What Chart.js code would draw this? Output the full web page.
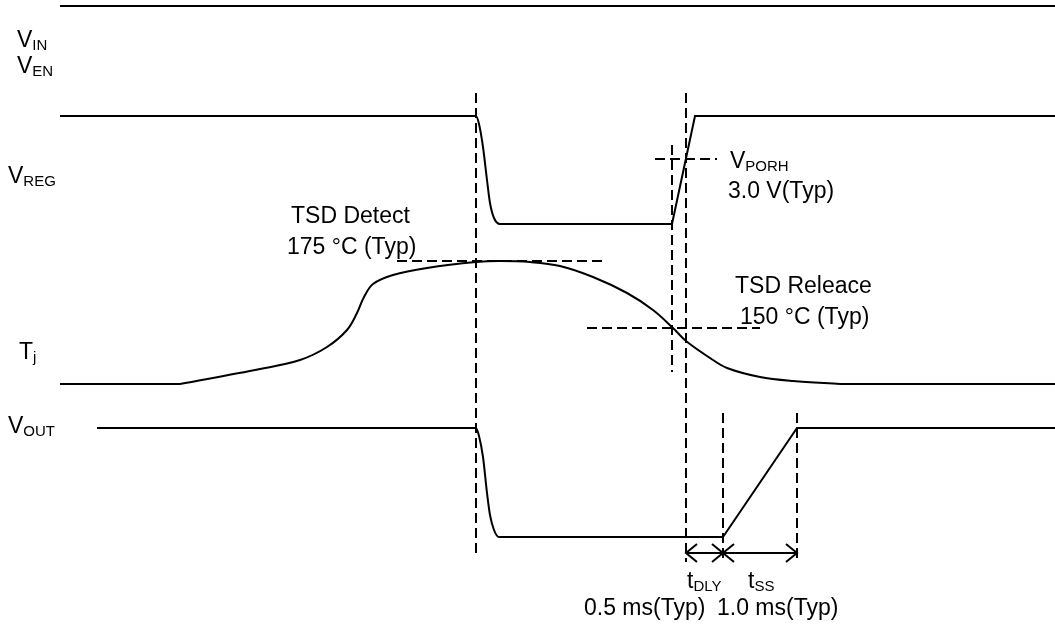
<!DOCTYPE html>
<html>
<head>
  <title>TSD Timing Chart</title>
  <script src="https://cdn.jsdelivr.net/npm/chart.js"></script>
  <style>
    body { margin: 0; background: #fff; }
    canvas { display: block; }
  </style>
</head>
<body>
  <canvas id="timingChart" width="1055" height="624"></canvas>

  <script>
    // waveforms: x = time position, y = signal level (diagram units, top = 0)
    const vinX  = [60, 1055];
    const vinY  = [6, 6];

    // first 9 points are the smooth fall, the rest is the straight ramp back up
    const vregX = [60, 476, 479, 483, 487, 490, 494, 500, 672, 695, 1055];
    const vregY = [116, 116, 124, 147, 180, 203, 218, 224, 224, 116, 116];

    const tjX = [60, 180, 260, 300, 327, 347, 357, 364, 373, 393, 427, 476, 500, 530, 560, 593, 627, 653, 673, 686, 710, 727, 760, 793, 840, 1055];
    const tjY = [384, 384, 369, 360, 347, 330, 313, 297, 284, 275, 268, 262, 261, 262, 266, 277, 293, 310, 328, 341, 358, 368, 377, 381, 384, 384];

    const voutX = [97, 476, 479, 483, 487, 490, 494, 499, 723, 797, 1055];
    const voutY = [428, 428, 436, 457, 493, 515, 530, 537, 537, 428, 428];

    // dashed guide lines: [x1, y1, x2, y2]
    const guides = [
      [476, 93, 476, 556],
      [686, 93, 686, 562],
      [672, 145, 672, 372],
      [723, 413, 723, 562],
      [797, 413, 797, 562],
      [655, 159, 717, 159],
      [397, 261, 602, 261],
      [587, 328, 760, 328]
    ];

    // timing arrows: [from, to, level]
    const arrows = [
      [686, 723, 553],
      [723, 797, 553]
    ];

    // text: [main, subscript, x, baseline]
    const labels = [
      ['V', 'IN', 17, 47],
      ['V', 'EN', 17, 73],
      ['V', 'REG', 8, 183],
      ['T', 'j', 19, 359],
      ['V', 'OUT', 8, 433],
      ['V', 'PORH', 730, 168],
      ['3.0 V(Typ)', '', 728, 198],
      ['TSD Detect', '', 291, 223],
      ['175 \u00B0C (Typ)', '', 287, 254],
      ['TSD Releace', '', 735, 293],
      ['150 \u00B0C (Typ)', '', 740, 324],
      ['t', 'DLY', 687, 588],
      ['t', 'SS', 748, 588],
      ['0.5 ms(Typ)', '', 584, 615],
      ['1.0 ms(Typ)', '', 717, 615]
    ];

    function pts(xs, ys, from, to) {
      return xs.map((x, i) => ({ x: x, y: ys[i] })).slice(from || 0, to);
    }

    function line(data, mode) {
      return {
        data: data, borderColor: '#000', borderWidth: 2, pointRadius: 0,
        showLine: true, fill: false, clip: false,
        tension: mode === 'curve' ? 0.35 : 0,
        cubicInterpolationMode: mode === 'mono' ? 'monotone' : 'default'
      };
    }

    const datasets = [
      line(pts(vinX, vinY)),
      line(pts(vregX, vregY, 0, 9), 'mono'),
      line(pts(vregX, vregY, 8)),
      line(pts(tjX, tjY, 0, 2)),
      line(pts(tjX, tjY, 1, 25), 'curve'),
      line(pts(tjX, tjY, 24)),
      line(pts(voutX, voutY, 0, 9), 'mono'),
      line(pts(voutX, voutY, 8))
    ];

    guides.forEach(g => {
      const d = line([{ x: g[0], y: g[1] }, { x: g[2], y: g[3] }]);
      d.borderDash = [10, 5];
      datasets.push(d);
    });

    arrows.forEach(a => {
      datasets.push(line([{ x: a[0], y: a[2] }, { x: a[1], y: a[2] }]));
    });

    const decorPlugin = {
      id: 'decor',
      afterDatasetsDraw(chart) {
        const ctx = chart.ctx;
        const xs = chart.scales.x, ys = chart.scales.y;
        ctx.save();
        ctx.strokeStyle = '#000';
        ctx.lineWidth = 2;
        // open arrow heads
        arrows.forEach(a => {
          const y = ys.getPixelForValue(a[2]);
          const x1 = xs.getPixelForValue(a[0]), x2 = xs.getPixelForValue(a[1]);
          ctx.beginPath();
          ctx.moveTo(x1 + 11, y - 9); ctx.lineTo(x1, y); ctx.lineTo(x1 + 11, y + 9);
          ctx.moveTo(x2 - 11, y - 9); ctx.lineTo(x2, y); ctx.lineTo(x2 - 11, y + 9);
          ctx.stroke();
        });
        // text
        ctx.fillStyle = '#000';
        ctx.textBaseline = 'alphabetic';
        labels.forEach(l => {
          const x = xs.getPixelForValue(l[2]), y = ys.getPixelForValue(l[3]);
          ctx.font = '23px "Liberation Sans", Arial, sans-serif';
          ctx.fillText(l[0], x, y);
          if (l[1]) {
            const w = ctx.measureText(l[0]).width;
            ctx.font = '15px "Liberation Sans", Arial, sans-serif';
            ctx.fillText(l[1], x + w, y + 3);
          }
        });
        ctx.restore();
      }
    };

    new Chart(document.getElementById('timingChart').getContext('2d'), {
      type: 'scatter',
      data: { datasets: datasets },
      options: {
        responsive: false,
        animation: false,
        layout: { padding: 0 },
        plugins: { legend: { display: false }, tooltip: { enabled: false } },
        scales: {
          x: { type: 'linear', min: 0, max: 1055, display: false },
          y: { type: 'linear', min: 0, max: 624, reverse: true, display: false }
        }
      },
      plugins: [decorPlugin]
    });
  </script>
</body>
</html>
